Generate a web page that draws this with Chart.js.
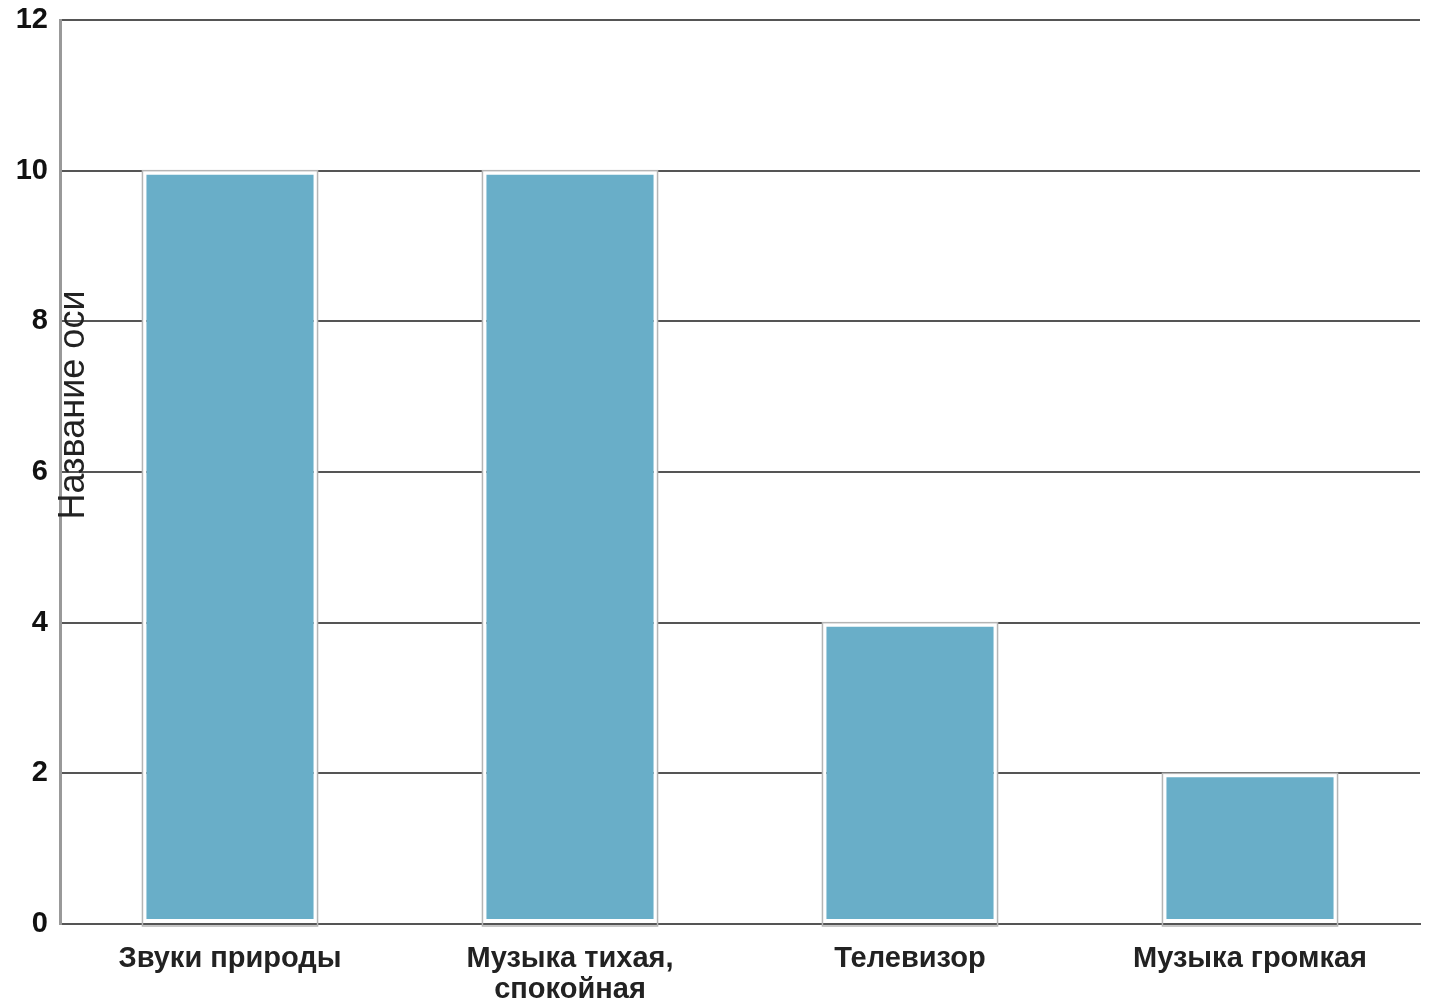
<!DOCTYPE html>
<html>
<head>
<meta charset="utf-8">
<script src="https://cdn.jsdelivr.net/npm/chart.js@4.4.0/dist/chart.umd.min.js"></script>
<style>
  html, body { margin: 0; padding: 0; background: #fff; }
  #wrap { width: 1430px; height: 1005px; }
</style>
</head>
<body>
<div id="wrap"><canvas id="chart"></canvas></div>
<script>
// Дані
const categories = ["Звуки природы", ["Музыка тихая,", "спокойная"], "Телевизор", "Музыка громкая"];
const values = [10, 10, 4, 2];
const yTicks = [0, 2, 4, 6, 8, 10, 12];
const axisTitle = "Название оси";

const FONT = "'Liberation Sans', Arial, sans-serif";

// сіра рамка навколо стовпчиків (поверх білої)
const barOutline = {
    id: "barOutline",
    afterDatasetsDraw(chart) {
        const ctx = chart.ctx;
        const meta = chart.getDatasetMeta(0);
        ctx.save();
        ctx.strokeStyle = "#b5b5b5";
        ctx.lineWidth = 1.5;
        meta.data.forEach(bar => {
            const w = bar.width;
            ctx.strokeRect(bar.x - w / 2, bar.y, w, bar.base - bar.y + 3);
        });
        ctx.restore();
    }
};

// назва осі всередині області графіка
const axisTitlePlugin = {
    id: "axisTitlePlugin",
    afterDraw(chart) {
        const ctx = chart.ctx;
        ctx.save();
        ctx.translate(74, 405);
        ctx.rotate(-Math.PI / 2);
        ctx.font = "36px " + FONT;
        ctx.fillStyle = "#222";
        ctx.textAlign = "center";
        ctx.textBaseline = "middle";
        ctx.fillText(axisTitle, 0, 0);
        ctx.restore();
    }
};

const ctx = document.getElementById("chart").getContext("2d");
new Chart(ctx, {
    type: "bar",
    data: {
        labels: categories,
        datasets: [{
            data: values,
            backgroundColor: "#69aec8",
            borderColor: "#ffffff",
            borderWidth: 4,
            borderSkipped: false,
            categoryPercentage: 1,
            barPercentage: 0.515
        }]
    },
    options: {
        responsive: true,
        maintainAspectRatio: false,
        animation: false,
        layout: { padding: { top: 20, right: 10, left: 0, bottom: 0 } },
        plugins: {
            legend: { display: false },
            tooltip: { enabled: false }
        },
        scales: {
            x: {
                grid: { display: false, drawTicks: false },
                border: { color: "#555", width: 2 },
                ticks: {
                    color: "#222",
                    font: { family: FONT, size: 29, weight: "bold", lineHeight: 1.08 },
                    padding: 19,
                    maxRotation: 0,
                    autoSkip: false
                },
                afterFit(scale) {
                    scale.height = 81;
                    scale.paddingLeft = 0;
                    scale.paddingRight = 0;
                }
            },
            y: {
                min: 0,
                max: 12,
                afterBuildTicks(scale) { scale.ticks = yTicks.map(v => ({ value: v })); },
                grid: { color: "#555", lineWidth: 2, drawTicks: false },
                border: { color: "#999", width: 3 },
                ticks: {
                    color: "#111",
                    font: { family: FONT, size: 29, weight: "bold" },
                    padding: 12
                },
                afterFit(scale) {
                    scale.width = 60;
                    scale.paddingTop = 0;
                    scale.paddingBottom = 0;
                }
            }
        }
    },
    plugins: [barOutline, axisTitlePlugin]
});
</script>
</body>
</html>
